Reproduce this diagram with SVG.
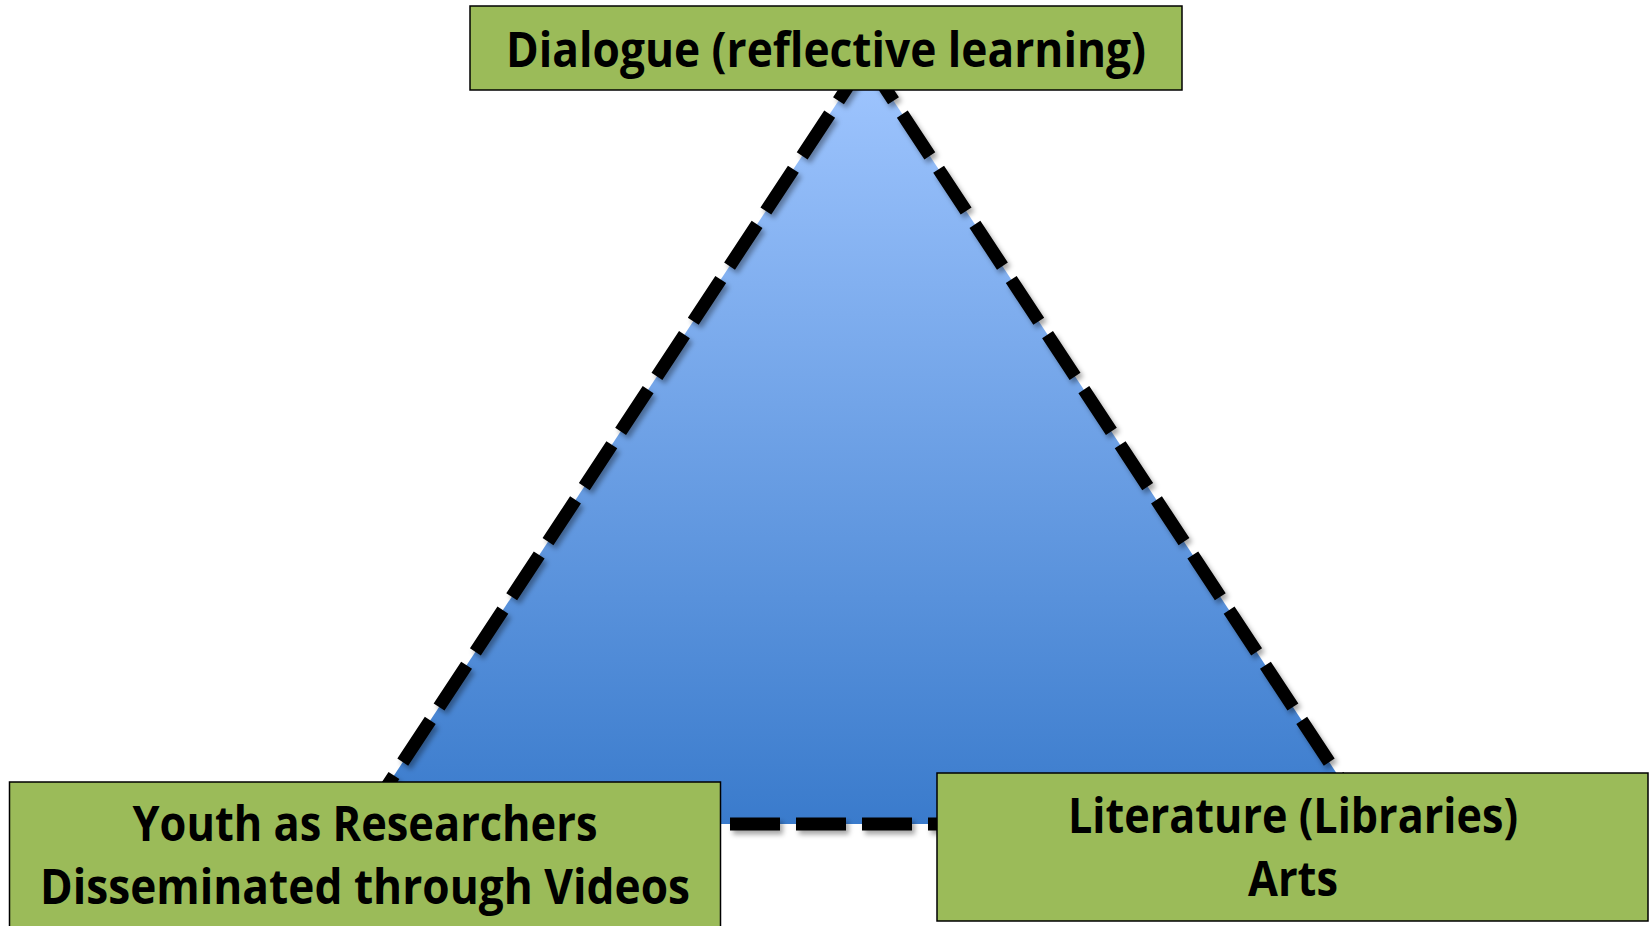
<svg xmlns="http://www.w3.org/2000/svg" width="1649" height="926" viewBox="0 0 1649 926">
<style>
.box{fill:#9BBB59;stroke:#000;stroke-width:1.5}
.lbl{font-family:"Open Sans","Liberation Sans",sans-serif;font-weight:bold;font-size:49px;fill:#000;text-anchor:middle}
.edge{fill:none;stroke:#000;stroke-width:13;stroke-dasharray:50 16;filter:url(#sh)}
</style>
<defs>
<linearGradient id="g" gradientUnits="userSpaceOnUse" x1="0" y1="59" x2="0" y2="823">
<stop offset="0" stop-color="#A0C6FF"/>
<stop offset="1" stop-color="#3A7BCC"/>
</linearGradient>
<filter id="sh" filterUnits="userSpaceOnUse" x="0" y="0" width="1649" height="926">
<feDropShadow dx="3" dy="4" stdDeviation="2.5" flood-color="#000" flood-opacity="0.35"/>
</filter>
</defs>
<polygon id="triangle" points="866,59 362,824 1370,824" fill="url(#g)"/>
<g id="connectors">
<line class="edge" x1="866" y1="59" x2="362" y2="824"/>
<line class="edge" x1="866" y1="59" x2="1370" y2="824"/>
<line class="edge" x1="730" y1="824" x2="1370" y2="824"/>
</g>
<g id="node-dialogue">
<rect class="box" x="470" y="6" width="712" height="84"/>
<text class="lbl" x="826" y="67" textLength="640" lengthAdjust="spacingAndGlyphs">Dialogue (reflective learning)</text>
</g>
<g id="node-youth">
<rect class="box" x="9.5" y="782" width="711" height="160"/>
<text class="lbl" x="365" y="841" textLength="465" lengthAdjust="spacingAndGlyphs">Youth as Researchers</text>
<text class="lbl" x="365" y="904" textLength="650" lengthAdjust="spacingAndGlyphs">Disseminated through Videos</text>
</g>
<g id="node-literature">
<rect class="box" x="937" y="773" width="711" height="148"/>
<text class="lbl" x="1293" y="833" textLength="450" lengthAdjust="spacingAndGlyphs">Literature (Libraries)</text>
<text class="lbl" x="1293" y="896" textLength="90" lengthAdjust="spacingAndGlyphs">Arts</text>
</g>
</svg>
